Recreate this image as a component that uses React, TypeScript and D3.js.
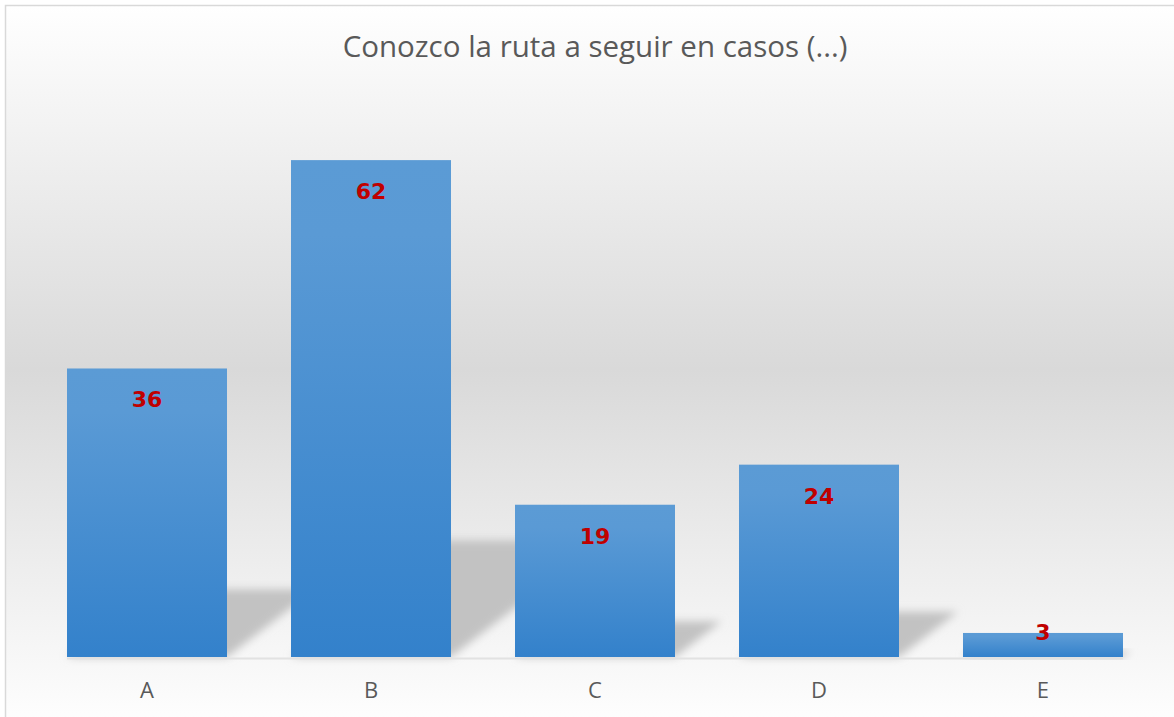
import React from "react";
import * as d3 from "d3";

const title = "Conozco la ruta a seguir en casos (...)";
const categories = ["A", "B", "C", "D", "E"];
const values = [36, 62, 19, 24, 3];
const yDomainMax = 70;

const W = 1174;
const H = 717;

export default function App() {
  const x = d3.scaleBand<string>().domain(categories).range([35, 1155]).paddingInner(0.2857).paddingOuter(0.1429);
  const y = d3.scaleLinear().domain([0, yDomainMax]).range([657, 96]);
  const y0 = y(0);
  const data = categories.map((c, i) => ({ c, v: values[i] }));

  return (
    <svg width={W} height={H} style={{ position: "absolute", left: 0, top: 0 }}>
      <defs>
        <linearGradient id="bg" x1="0" y1="0" x2="0" y2="1">
          <stop offset="0" stopColor="#ffffff" />
          <stop offset="0.5" stopColor="#d9d9d9" />
          <stop offset="1" stopColor="#ffffff" />
        </linearGradient>
        <linearGradient id="bar" x1="0" y1="0" x2="0" y2="1">
          <stop offset="0" stopColor="#5b9bd5" />
          <stop offset="0.15" stopColor="#5a9ad5" />
          <stop offset="1" stopColor="#3381cb" />
        </linearGradient>
        <filter id="blur" x="-50%" y="-50%" width="200%" height="200%">
          <feGaussianBlur stdDeviation="4" />
        </filter>
      </defs>
      <rect x={0} y={0} width={W} height={H} fill="#ffffff" />
      <rect x={5.5} y={5.5} width={1180} height={728} fill="url(#bg)" stroke="#d9d9d9" strokeWidth={1.5} />
      <text x={595} y={57} textAnchor="middle" fontFamily="'Open Sans', sans-serif" fontSize={29.5} fill="#595959">
        {title}
      </text>
      <g>
        {data.map((d) => {
          const x0 = x(d.c)!;
          const x1 = x0 + x.bandwidth();
          const h = y0 - y(d.v);
          const sh = 0.235 * h;
          const dx = 1.3 * sh;
          const pts = [
            [x0, y0],
            [x1, y0],
            [x1 + dx, y0 - sh],
            [x0 + dx, y0 - sh],
          ];
          return <polygon key={"s" + d.c} points={pts.map((p) => p.join(",")).join(" ")} fill="#c2c2c2" filter="url(#blur)" />;
        })}
      </g>
      <line x1={x(categories[0])!} x2={x(categories[categories.length - 1])! + x.bandwidth()} y1={y0 + 1.5} y2={y0 + 1.5} stroke="#e2e2e2" strokeWidth={2} />
      <g>
        {data.map((d) => (
          <rect key={"b" + d.c} x={x(d.c)} y={y(d.v)} width={x.bandwidth()} height={y0 - y(d.v)} fill="url(#bar)" />
        ))}
      </g>
      <g>
        {data.map((d) => (
          <text
            key={"v" + d.c}
            x={x(d.c)! + x.bandwidth() / 2}
            y={Math.min(y(d.v) + 39, y0 - 17)}
            textAnchor="middle"
            fontFamily="'DejaVu Sans', sans-serif"
            fontWeight="bold"
            fontSize={22}
            fill="#c00000"
          >
            {d.v}
          </text>
        ))}
      </g>
      <g>
        {categories.map((c) => (
          <text key={"c" + c} x={x(c)! + x.bandwidth() / 2} y={698} textAnchor="middle" fontFamily="'Open Sans', sans-serif" fontSize={22} fill="#595959">
            {c}
          </text>
        ))}
      </g>
    </svg>
  );
}
